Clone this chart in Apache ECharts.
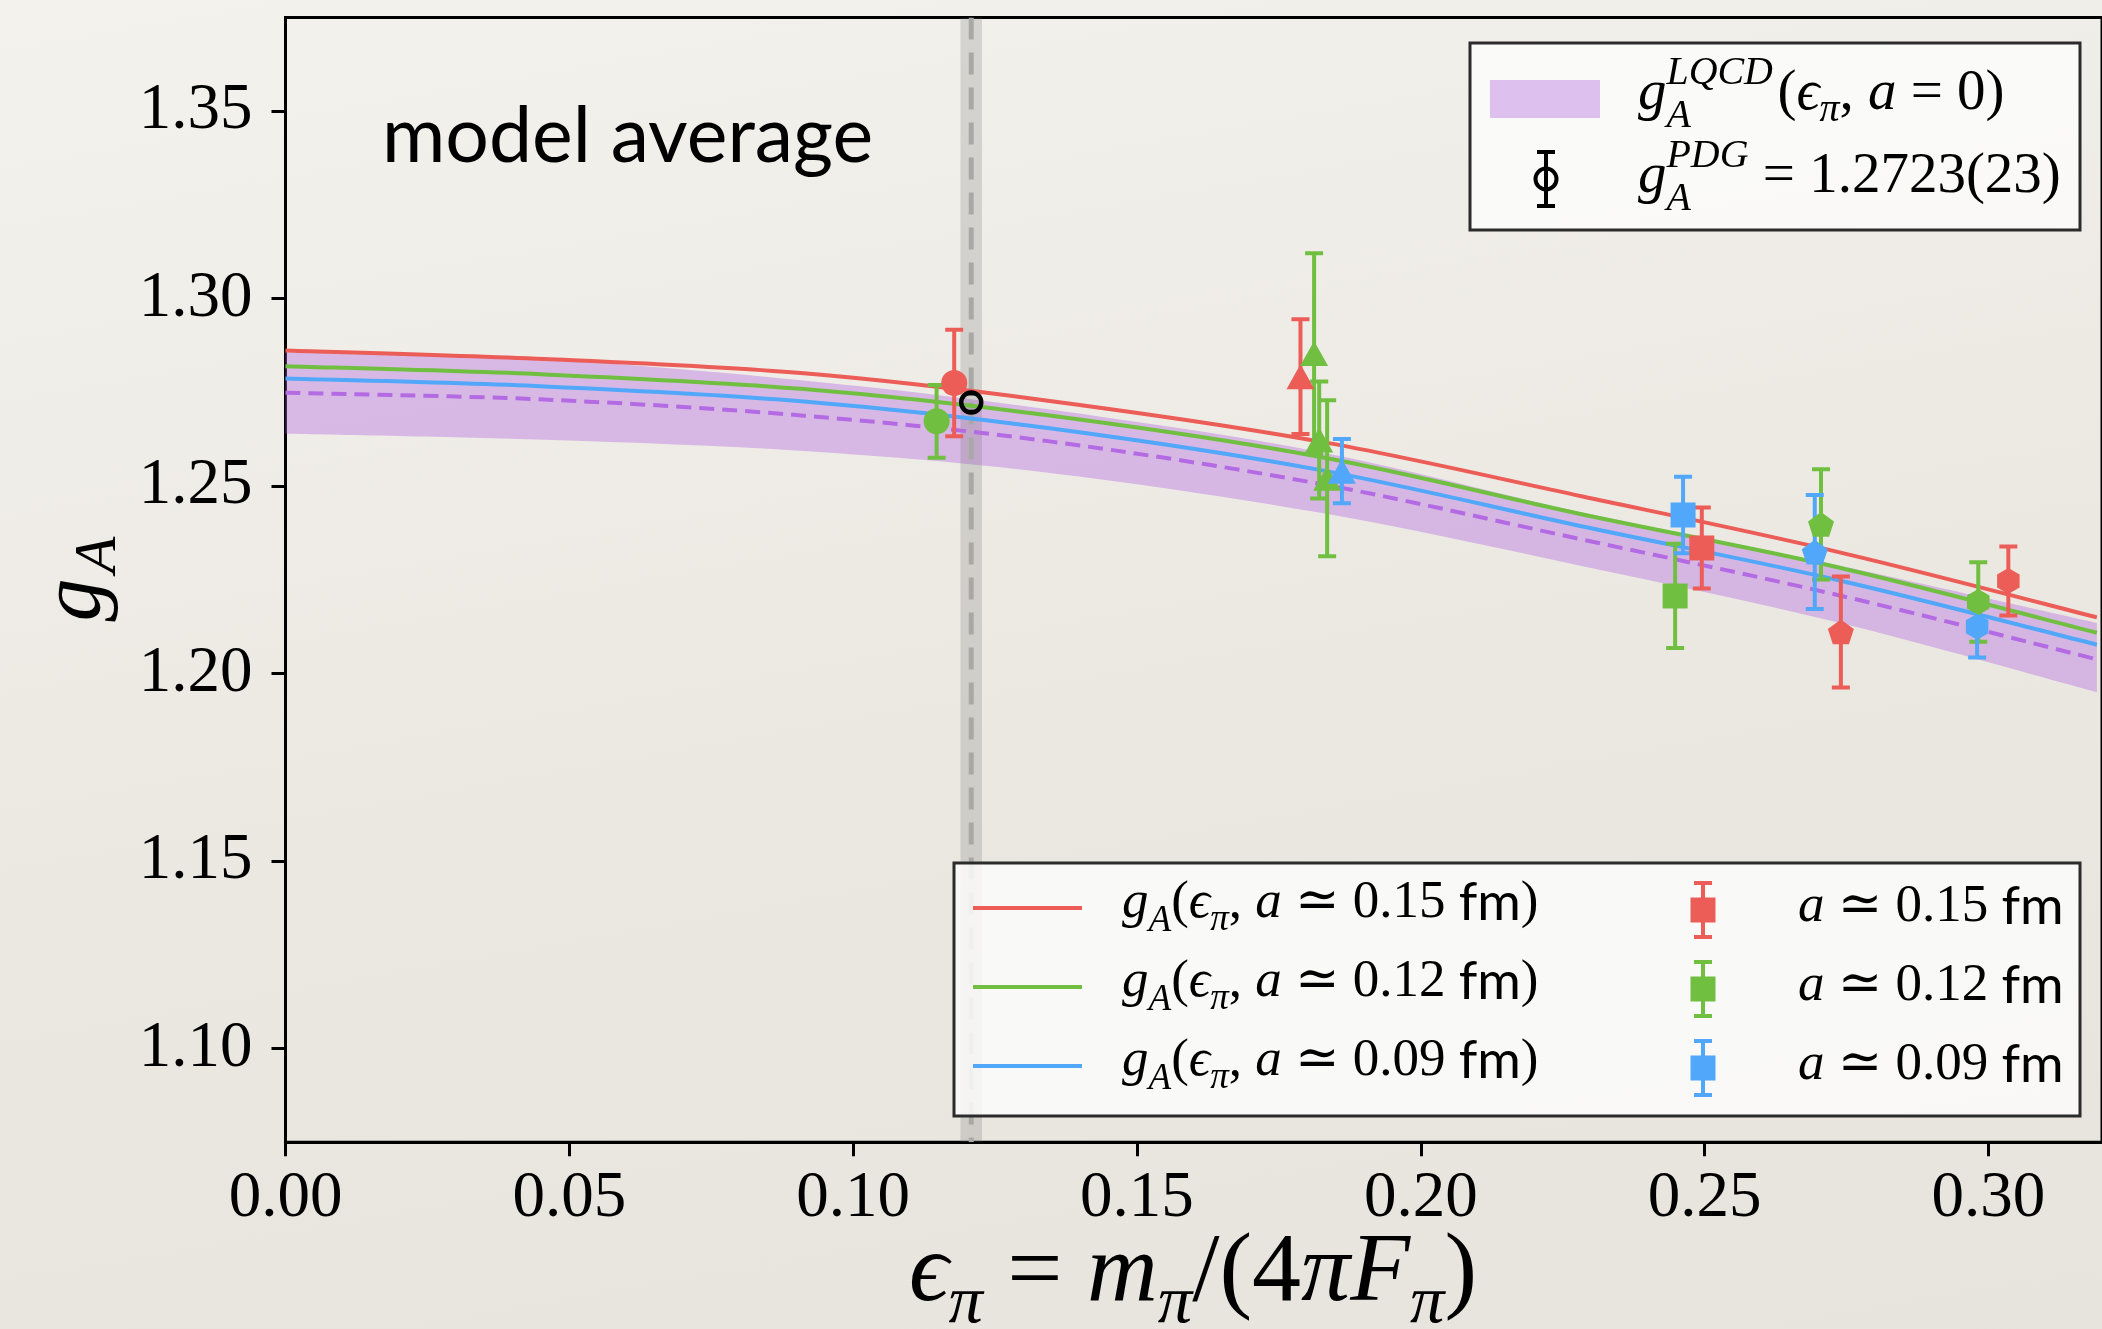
<!DOCTYPE html>
<html><head><meta charset="utf-8">
<script src="https://cdn.jsdelivr.net/npm/echarts@6/dist/echarts.min.js"></script>
<style>
html,body{margin:0;padding:0;}
body{background:linear-gradient(170deg,#f4f2ed 0%,#ebe8e2 55%,#e7e4de 100%);}
#c{width:2102px;height:1329px;}
</style>
</head><body><div id="c"></div>
<script>
// ---------------- data ----------------
const xTicks = [0.00, 0.05, 0.10, 0.15, 0.20, 0.25, 0.30];
const yTicks = [1.10, 1.15, 1.20, 1.25, 1.30, 1.35];

const curveEps = [0, 0.0456, 0.0913, 0.1343, 0.1826, 0.2283, 0.2736, 0.3191];
const fitA15   = [1.2862, 1.2839, 1.2801, 1.2728, 1.2618, 1.2473, 1.2324, 1.2150];
const fitA12   = [1.2820, 1.2798, 1.2759, 1.2689, 1.2577, 1.2425, 1.2283, 1.2109];
const fitA09   = [1.2787, 1.2766, 1.2726, 1.2655, 1.2542, 1.2393, 1.2249, 1.2077];
const fitCont  = [1.2749, 1.2731, 1.2688, 1.2620, 1.2505, 1.2358, 1.2209, 1.2038];
const bandLow  = [1.2640, 1.2624, 1.2594, 1.2536, 1.2428, 1.2287, 1.2136, 1.1950];
const bandHigh = [1.2857, 1.2838, 1.2782, 1.2705, 1.2590, 1.2430, 1.2288, 1.2135];

const a15Eps   = [0.1178, 0.1788, 0.2495, 0.2740, 0.3035];
const a15gA    = [1.2775, 1.2792, 1.2335, 1.2111, 1.2247];
const a15Err   = [0.0142, 0.0153, 0.0108, 0.0148, 0.0092];
const a15Shape = ['circle', 'triangle', 'square', 'pentagon', 'hexagon'];

const a12Eps   = [0.1147, 0.1812, 0.1821, 0.1835, 0.2448, 0.2705, 0.2982];
const a12gA    = [1.2673, 1.2854, 1.2623, 1.2521, 1.2207, 1.2398, 1.2191];
const a12Err   = [0.0097, 0.0267, 0.0156, 0.0208, 0.0139, 0.0147, 0.0106];
const a12Shape = ['circle', 'triangle', 'triangle', 'triangle', 'square', 'pentagon', 'hexagon'];

const a09Eps   = [0.1861, 0.2462, 0.2694, 0.2980];
const a09gA    = [1.2540, 1.2423, 1.2324, 1.2125];
const a09Err   = [0.0086, 0.0102, 0.0152, 0.0082];
const a09Shape = ['triangle', 'square', 'pentagon', 'hexagon'];

const pdgEps = [0.1208], pdgGA = [1.2723], pdgErr = [0.0023];
const physEps = [0.1208], physEpsErr = [0.0019];

const spacingLabels = ['0.15', '0.12', '0.09'];
const pdgLabel = '1.2723(23)';
const panelLabel = 'model average';

// ---------------- styling ----------------
const RED = '#ec5d57', GREEN = '#70bf41', BLUE = '#51a7f9', PURPLE = '#b36ae2';
const BAND = 'rgba(179,106,226,0.40)';
const SERIF = '"Liberation Serif", "DejaVu Serif", serif';
const SANS = 'Lato, "Noto Sans", sans-serif';
const XMIN = 0, XMAX = 0.32, YMIN = 1.075, YMAX = 1.375;
const MID = 0.34;

const SYM = {
  circle: 'circle', triangle: 'triangle', square: 'rect',
  pentagon: 'path://M0,-1L0.951,-0.309L0.588,0.809L-0.588,0.809L-0.951,-0.309Z',
  hexagon: 'path://M0,-1L0.866,-0.5L0.866,0.5L0,1L-0.866,0.5L-0.866,-0.5Z'
};
const SSZ = { circle: 26, triangle: [28, 25], square: 25, pentagon: 26, hexagon: 26 };

// ---------------- helpers ----------------
const MC = document.createElement('canvas').getContext('2d');
function mathRow(tokens, x0, base, S, color, align) {
  const items = []; let x = 0, stayW = 0;
  tokens.forEach(tk => {
    if (tk.gap) { x += tk.gap * S; return; }
    const size = Math.round((tk.s || 1) * S * 10) / 10;
    const fam = tk.sans ? SANS : SERIF;
    const fst = tk.it ? 'italic' : 'normal';
    MC.font = fst + ' ' + size + 'px ' + fam;
    const w = MC.measureText(tk.t).width;
    items.push({ tk, size, fam, fst, x });
    if (tk.stay) { stayW = w; } else { x += Math.max(w, stayW); stayW = 0; }
  });
  const off = align === 'center' ? -x / 2 : 0;
  return items.map(it => ({
    type: 'text', silent: true, z: 100,
    x: x0 + off + it.x, y: base - (it.tk.dy || 0) * S - MID * it.size,
    style: { text: it.tk.t, fontSize: it.size, fontFamily: it.fam, fontStyle: it.fst, fontWeight: 'normal',
      fill: color, textAlign: 'left', textVerticalAlign: 'middle', align: 'left', verticalAlign: 'middle' }
  }));
}
function errItem(color, capHalf, lw, noStem) {
  return (params, api) => {
    const x = api.value(0), y = api.value(1), e = api.value(2);
    const t = api.coord([x, y + e]), b = api.coord([x, y - e]);
    const st = { stroke: color, lineWidth: lw };
    const ch = [
      { type: 'line', shape: { x1: t[0] - capHalf, y1: t[1], x2: t[0] + capHalf, y2: t[1] }, style: st },
      { type: 'line', shape: { x1: b[0] - capHalf, y1: b[1], x2: b[0] + capHalf, y2: b[1] }, style: st }
    ];
    if (!noStem) ch.unshift({ type: 'line', shape: { x1: t[0], y1: t[1], x2: b[0], y2: b[1] }, style: st });
    return { type: 'group', children: ch };
  };
}
function smoothSeg(pts) {
  let d = '';
  for (let i = 0; i < pts.length - 1; i++) {
    const p0 = pts[i - 1] || pts[i], p1 = pts[i], p2 = pts[i + 1], p3 = pts[i + 2] || pts[i + 1];
    const c1 = [p1[0] + (p2[0] - p0[0]) / 6, p1[1] + (p2[1] - p0[1]) / 6];
    const c2 = [p2[0] - (p3[0] - p1[0]) / 6, p2[1] - (p3[1] - p1[1]) / 6];
    d += ' C' + c1[0].toFixed(2) + ',' + c1[1].toFixed(2) + ' ' + c2[0].toFixed(2) + ',' + c2[1].toFixed(2) + ' ' + p2[0].toFixed(2) + ',' + p2[1].toFixed(2);
  }
  return d;
}
function pointsSeries(eps, gA, err, shapes, color) {
  return [
    { type: 'custom', silent: true, clip: true, renderItem: errItem(color, 9, 4), encode: { x: 0, y: 1 },
      data: eps.map((e, i) => [e, gA[i], err[i]]) },
    { type: 'scatter', silent: true, symbolKeepAspect: true, itemStyle: { color: color, opacity: 1 },
      data: eps.map((e, i) => ({ value: [e, gA[i]], symbol: SYM[shapes[i]], symbolSize: SSZ[shapes[i]] })) }
  ];
}
// smooth curve through the read points, drawn via the axes' coordinate mapping
function curveSeries(ys, color, dashed) {
  return { type: 'custom', silent: true, clip: true, encode: { x: 0, y: 1 }, data: [[curveEps[0], ys[0]]],
    renderItem: (params, api) => {
      const pts = curveEps.map((x, i) => api.coord([x, ys[i]]));
      const d = 'M' + pts[0][0].toFixed(2) + ',' + pts[0][1].toFixed(2) + smoothSeg(pts);
      return { type: 'path', shape: { pathData: d },
        style: { fill: 'none', stroke: color, lineWidth: 4, lineDash: dashed ? [15, 8] : null } };
    } };
}

// ---------------- graphics (labels & legends) ----------------
const G = [];
G.push({ type: 'text', silent: true, x: 382, y: 167 - 0.387 * 77,
  style: { text: panelLabel, fontSize: 77, fontFamily: SANS, fill: '#000', textAlign: 'left', textVerticalAlign: 'middle', align: 'left', verticalAlign: 'middle' } });
// y axis title
G.push({ type: 'text', silent: true, x: 76, y: 600, rotation: Math.PI / 2,
  style: { text: 'g', fontSize: 86, fontStyle: 'italic', fontFamily: SERIF, fill: '#000', textAlign: 'center', textVerticalAlign: 'middle', align: 'center', verticalAlign: 'middle' } });
G.push({ type: 'text', silent: true, x: 99, y: 555, rotation: Math.PI / 2,
  style: { text: 'A', fontSize: 60, fontStyle: 'italic', fontFamily: SERIF, fill: '#000', textAlign: 'center', textVerticalAlign: 'middle', align: 'center', verticalAlign: 'middle' } });
// x axis title
G.push(...mathRow([
  { t: 'ϵ', it: 1 }, { t: 'π', it: 1, s: 0.7, dy: -0.2 }, { t: ' = ' }, { t: 'm', it: 1 }, { t: 'π', it: 1, s: 0.7, dy: -0.2 },
  { t: '/(4' }, { t: 'π', it: 1 }, { t: 'F', it: 1 }, { t: 'π', it: 1, s: 0.7, dy: -0.2 }, { t: ')' }
], 1193, 1308, 98, '#000', 'center'));

// legend 1
G.push({ type: 'rect', silent: true, z: 90, shape: { x: 1470, y: 43, width: 610, height: 187 },
  style: { fill: 'rgba(251,251,250,0.85)', stroke: '#2b2b2b', lineWidth: 3 } });
G.push({ type: 'rect', silent: true, z: 95, shape: { x: 1490, y: 80, width: 110, height: 38 }, style: { fill: BAND } });
G.push(...mathRow([
  { t: 'g', it: 1 }, { t: 'LQCD', it: 1, s: 0.7, dy: 0.45, stay: 1 }, { t: 'A', it: 1, s: 0.7, dy: -0.3 }, { gap: 0.08 },
  { t: '(' }, { t: 'ϵ', it: 1 }, { t: 'π', it: 1, s: 0.7, dy: -0.2 }, { t: ', ' }, { t: 'a', it: 1 }, { t: ' = 0)' }
], 1638, 113, 57, '#000'));
G.push({ type: 'line', silent: true, z: 95, shape: { x1: 1546, y1: 152, x2: 1546, y2: 206 }, style: { stroke: '#000', lineWidth: 4 } });
G.push({ type: 'line', silent: true, z: 95, shape: { x1: 1537, y1: 152, x2: 1555, y2: 152 }, style: { stroke: '#000', lineWidth: 4 } });
G.push({ type: 'line', silent: true, z: 95, shape: { x1: 1537, y1: 206, x2: 1555, y2: 206 }, style: { stroke: '#000', lineWidth: 4 } });
G.push({ type: 'circle', silent: true, z: 96, shape: { cx: 1546, cy: 179, r: 10.5 }, style: { fill: 'none', stroke: '#000', lineWidth: 4 } });
G.push(...mathRow([
  { t: 'g', it: 1 }, { t: 'PDG', it: 1, s: 0.7, dy: 0.45, stay: 1 }, { t: 'A', it: 1, s: 0.7, dy: -0.3 }, { t: ' = ' + pdgLabel }
], 1638, 196, 57, '#000'));

// legend 2
G.push({ type: 'rect', silent: true, z: 90, shape: { x: 954, y: 863, width: 1126, height: 253 },
  style: { fill: 'rgba(251,251,250,0.85)', stroke: '#2b2b2b', lineWidth: 3 } });
[RED, GREEN, BLUE].forEach((c, i) => {
  const ly = 908 + 79 * i;
  G.push({ type: 'line', silent: true, z: 95, shape: { x1: 973, y1: ly, x2: 1082, y2: ly }, style: { stroke: c, lineWidth: 4 } });
  G.push(...mathRow([
    { t: 'g', it: 1 }, { t: 'A', it: 1, s: 0.7, dy: -0.25 }, { t: '(' }, { t: 'ϵ', it: 1 }, { t: 'π', it: 1, s: 0.7, dy: -0.22 },
    { t: ', ' }, { t: 'a', it: 1 }, { t: ' ≃ ' + spacingLabels[i] + ' ' }, { t: 'fm', sans: 1 }, { t: ')' }
  ], 1122, 921 + 79 * i, 53, '#000'));
  const my = 910 + 79 * i;
  G.push({ type: 'line', silent: true, z: 95, shape: { x1: 1703, y1: my - 27, x2: 1703, y2: my + 27 }, style: { stroke: c, lineWidth: 4 } });
  G.push({ type: 'line', silent: true, z: 95, shape: { x1: 1694, y1: my - 27, x2: 1712, y2: my - 27 }, style: { stroke: c, lineWidth: 4 } });
  G.push({ type: 'line', silent: true, z: 95, shape: { x1: 1694, y1: my + 27, x2: 1712, y2: my + 27 }, style: { stroke: c, lineWidth: 4 } });
  G.push({ type: 'rect', silent: true, z: 96, shape: { x: 1690.5, y: my - 12.5, width: 25, height: 25 }, style: { fill: c } });
  G.push(...mathRow([
    { t: 'a', it: 1 }, { t: ' ≃ ' + spacingLabels[i] + ' ' }, { t: 'fm', sans: 1 }
  ], 1798, 925 + 79 * i, 53, '#000'));
});

// ---------------- chart ----------------
const chart = echarts.init(document.getElementById('c'), null, { renderer: 'canvas' });
const series = [
  { type: 'custom', silent: true, clip: true, encode: { x: 0, y: 1 }, data: [[curveEps[0], bandLow[0]]],
    renderItem: (params, api) => {
      const up = curveEps.map((x, i) => api.coord([x, bandHigh[i]]));
      const lo = curveEps.map((x, i) => api.coord([x, bandLow[i]])).reverse();
      let d = 'M' + up[0][0].toFixed(2) + ',' + up[0][1].toFixed(2) + smoothSeg(up);
      d += ' L' + lo[0][0].toFixed(2) + ',' + lo[0][1].toFixed(2) + smoothSeg(lo) + ' Z';
      return { type: 'path', shape: { pathData: d }, style: { fill: BAND } };
    } },
  { type: 'custom', silent: true, clip: true, encode: { x: 0 }, data: physEps.map((e, i) => [e, physEpsErr[i]]),
    renderItem: (params, api) => {
      const x = api.value(0), e = api.value(1);
      const a = api.coord([x - e, YMAX]), b = api.coord([x + e, YMIN]);
      const t = api.coord([x, YMAX]), u = api.coord([x, YMIN]);
      return { type: 'group', children: [
        { type: 'rect', shape: { x: a[0], y: a[1], width: b[0] - a[0], height: b[1] - a[1] }, style: { fill: 'rgba(110,110,110,0.22)' } },
        { type: 'line', shape: { x1: t[0], y1: t[1], x2: u[0], y2: u[1] }, style: { stroke: '#a8a8a6', lineWidth: 5, lineDash: [22, 13] } }
      ]};
    } },
  curveSeries(fitA15, RED),
  curveSeries(fitA12, GREEN),
  curveSeries(fitA09, BLUE),
  curveSeries(fitCont, PURPLE, true),
  ...pointsSeries(a15Eps, a15gA, a15Err, a15Shape, RED),
  ...pointsSeries(a12Eps, a12gA, a12Err, a12Shape, GREEN),
  ...pointsSeries(a09Eps, a09gA, a09Err, a09Shape, BLUE),
  { type: 'custom', silent: true, clip: true, renderItem: errItem('#000', 6, 3, true), encode: { x: 0, y: 1 },
    data: pdgEps.map((e, i) => [e, pdgGA[i], pdgErr[i]]) },
  { type: 'scatter', silent: true, symbol: 'circle', symbolSize: 20,
    itemStyle: { color: 'rgba(0,0,0,0)', borderColor: '#000', borderWidth: 4.5, opacity: 1 },
    data: pdgEps.map((e, i) => [e, pdgGA[i]]) }
];

chart.setOption({
  animation: false,
  backgroundColor: 'transparent',
  grid: { left: 285.5, top: 17.5, right: -5, bottom: 186.8, show: true, borderColor: '#000', borderWidth: 3, backgroundColor: 'transparent' },
  xAxis: {
    type: 'value', min: XMIN, max: XMAX,
    axisLine: { show: true, onZero: false, lineStyle: { color: '#000', width: 3 } },
    axisTick: { show: true, inside: false, length: 14, lineStyle: { color: '#000', width: 3 }, customValues: xTicks },
    axisLabel: { customValues: xTicks, formatter: v => v.toFixed(2), fontFamily: SERIF, fontSize: 65, color: '#000', margin: 24 },
    splitLine: { show: false }
  },
  yAxis: {
    type: 'value', min: YMIN, max: YMAX,
    axisLine: { show: true, onZero: false, lineStyle: { color: '#000', width: 3 } },
    axisTick: { show: true, inside: false, length: 14, lineStyle: { color: '#000', width: 3 }, customValues: yTicks },
    axisLabel: { customValues: yTicks, formatter: v => v.toFixed(2), fontFamily: SERIF, fontSize: 65, color: '#000', margin: 33 },
    splitLine: { show: false }
  },
  series: series,
  graphic: { elements: G }
});
</script>
</body></html>
